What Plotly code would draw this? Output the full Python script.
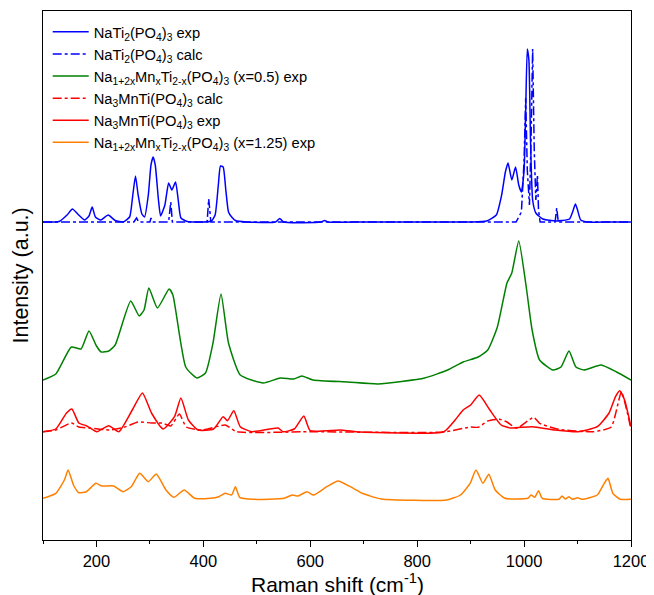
import plotly.graph_objects as go

# ---------------- data (Raman shift in cm-1, intensity in a.u., curves offset for clarity) ----------------
nti_exp_x = [100, 130, 145, 155, 165, 178, 186, 192, 198, 208, 222, 235, 250, 262, 268, 273, 278, 285, 290,
             297, 302, 306, 310, 316, 320, 328, 335, 341, 348, 353, 358, 370, 400, 415, 422, 428, 432, 437,
             442, 447, 453, 460, 480, 535, 543, 550, 620, 627, 633, 700, 800, 900, 930, 948, 958, 965, 970,
             977, 984, 990, 995, 1000, 1003, 1006, 1009, 1012, 1016, 1022, 1035, 1060, 1070, 1085, 1092,
             1096, 1100, 1106, 1120, 1160, 1200]
nti_exp_y = [0, 0.5, 7, 13, 8, 2, 6, 15, 5, 2, 7, 1.5, 0, 5, 27, 46, 27, 8, 5,
             27, 57, 65, 57, 22, 6, 17, 39, 32, 40, 22, 4, 0.5, 0, 1, 7, 37, 56, 55,
             32, 10, 5, 1.5, 0, 0, 3.5, 0, 0, 1.5, 0, 0, 0, 0, 1, 7, 27, 50, 59,
             42, 55, 37, 30, 52, 112, 173, 162, 82, 22, 9, 3, 1, 1.5, 3, 12,
             18, 12, 2, 0, 0, 0]

nti_calc_x = [100, 270, 275, 279, 300, 302, 305, 335, 339, 342, 407, 410, 412, 414, 985, 995, 1000, 1003,
              1006, 1010, 1013, 1016, 1019, 1022, 1025, 1027, 1030, 1058, 1061, 1064, 1200]
nti_calc_y = [0, 0, 4, 0, 0, 4, 0, 0, 20, 0, 0, 23, 12, 0, 0, 10, 62, 124,
              52, 17, 82, 173, 72, 22, 47, 12, 0, 0, 14, 0, 0]

x05_exp_x = [100, 124, 153, 171, 186, 200, 209, 223, 235, 264, 280, 289, 298, 314, 336, 343, 367, 388,
             404, 418, 433, 447, 469, 512, 544, 569, 584, 605, 670, 727, 814, 857, 886, 914, 932, 950,
             968, 977, 990, 1004, 1015, 1029, 1054, 1069, 1084, 1097, 1112, 1144, 1173, 1200]
x05_exp_y = [4, 10, 37, 35, 53, 38, 32, 33, 39, 83, 68, 74, 96, 76, 95, 89, 17, 6,
             11, 41, 90, 41, 9, 1, 6, 5, 8, 4, 2, 0, 6, 14, 22, 27, 34, 57,
             101, 111, 143, 97, 54, 24, 14, 17, 33, 17, 14, 19, 12, 4]

nmt_calc_x = [100, 124, 153, 167, 188, 224, 253, 278, 303, 323, 339, 355, 368, 398, 441, 462, 600, 850,
              900, 914, 932, 954, 968, 986, 1018, 1029, 1065, 1130, 1163, 1182, 1195, 1200]
nmt_calc_y = [0.3, 2, 9, 5, 4, 2, 5, 10, 9, 9, 6, 18, 5, 2, 7, 0.3, 0.3, 0,
              5, 4.7, 11, 12.7, 10, 3.7, 14.7, 8.7, 2.7, 0.3, 5, 40, 15, 2]

nmt_exp_x = [100, 124, 144, 154, 167, 181, 201, 223, 242, 267, 286, 303, 325, 346, 358, 372, 390, 419,
             437, 445, 457, 469, 491, 540, 549, 570, 588, 600, 656, 685, 850, 871, 886, 900, 916, 936,
             957, 975, 1015, 1058, 1101, 1137, 1159, 1171, 1179, 1188, 1200]
nmt_exp_y = [0.3, 3, 19, 23, 9, 6.3, 0.3, 6.3, 0.3, 22, 39, 19, 3, 15.3, 34, 12, 2, 3,
             15.3, 11.3, 21.3, 5.3, 0.3, 4, 0.3, 3, 16, 1.3, 2, 0.3, 0.3, 12, 22, 27, 37, 22,
             7, 4, 5.3, 2, 0.3, 5.3, 19, 35.3, 41.3, 32, 5.3]

x125_exp_x = [100, 124, 140, 147, 157, 167, 181, 199, 210, 232, 250, 265, 281, 297, 312, 330, 345, 364,
              384, 413, 429, 441, 453, 460, 468, 493, 551, 566, 577, 594, 606, 631, 652, 675, 697, 733,
              855, 881, 899, 910, 923, 934, 946, 964, 1007, 1013, 1020, 1027, 1034, 1065, 1071, 1077,
              1084, 1090, 1100, 1108, 1137, 1150, 1157, 1166, 1180, 1200]
x125_exp_y = [1.7, 6.7, 20, 30, 15, 7.3, 8.3, 16.7, 14, 14, 8.3, 13.3, 26.7, 18.3, 26, 10, 2.7, 10,
              1.7, 1.7, 3.3, 6.7, 5, 13.3, 2.7, 0.7, 1.7, 5, 4, 8.3, 5, 13.3, 19, 13.3, 6.7, 1,
              0, 5, 16.7, 30, 16.7, 25.7, 10, 1.7, 1.7, 5, 2.7, 9.3, 1.7, 0.7, 4, 1,
              3.3, 0.7, 2.3, 0.7, 5, 16.7, 21.7, 6.7, 0.7, 0.7]

offsets = [318, 318, 156, 108, 108, 40]
names = [
    "NaTi<sub>2</sub>(PO<sub>4</sub>)<sub>3</sub> exp",
    "NaTi<sub>2</sub>(PO<sub>4</sub>)<sub>3</sub> calc",
    "Na<sub>1+2x</sub>Mn<sub>x</sub>Ti<sub>2-x</sub>(PO<sub>4</sub>)<sub>3</sub> (x=0.5) exp",
    "Na<sub>3</sub>MnTi(PO<sub>4</sub>)<sub>3</sub> calc",
    "Na<sub>3</sub>MnTi(PO<sub>4</sub>)<sub>3</sub> exp",
    "Na<sub>1+2x</sub>Mn<sub>x</sub>Ti<sub>2-x</sub>(PO<sub>4</sub>)<sub>3</sub> (x=1.25) exp",
]
colors = ["#0000FF", "#0000FF", "#008000", "#FF0000", "#FF0000", "#FF8000"]
dashes = ["solid", "dashdot", "solid", "dashdot", "solid", "solid"]
shapes_ = ["spline", "linear", "spline", "spline", "spline", "spline"]
series = [(nti_exp_x, nti_exp_y), (nti_calc_x, nti_calc_y), (x05_exp_x, x05_exp_y),
          (nmt_calc_x, nmt_calc_y), (nmt_exp_x, nmt_exp_y), (x125_exp_x, x125_exp_y)]

x_title = "Raman shift (cm<sup>-1</sup>)"
y_title = "Intensity (a.u.)"

# ---------------- figure ----------------
fig = go.Figure()
for (xs, ys), off, nm, c, d, sh in zip(series, offsets, names, colors, dashes, shapes_):
    line = dict(color=c, width=1.5, dash=d, shape=sh)
    if sh == "spline":
        line["smoothing"] = 0.5
    fig.add_trace(go.Scatter(x=xs, y=[v + off for v in ys], name=nm, mode="lines", line=line))

font_family = "Arial, 'Liberation Sans', sans-serif"
# the page body adds an 8 px margin, so the figure is 8 px smaller than the window
fig.update_layout(
    width=646, height=587,
    margin=dict(l=35, r=23, t=3, b=55, autoexpand=False),
    paper_bgcolor="white", plot_bgcolor="white",
    font=dict(family=font_family, color="black"),
    showlegend=True,
    legend=dict(x=0.008, y=0.991, xanchor="left", yanchor="top",
                bgcolor="rgba(0,0,0,0)", font=dict(size=14.7, family=font_family),
                tracegroupgap=0, itemwidth=36),
    xaxis=dict(range=[100, 1200], showgrid=False, zeroline=False, automargin=False,
               showline=True, linecolor="black", linewidth=1, mirror=True,
               ticks="outside", ticklen=6, tickcolor="black", tickwidth=1,
               tickvals=[200, 400, 600, 800, 1000, 1200],
               tickfont=dict(size=16.5),
               minor=dict(tickvals=[100, 300, 500, 700, 900, 1100], ticks="outside",
                          ticklen=3, tickcolor="black", tickwidth=1)),
    yaxis=dict(range=[0, 529], showgrid=False, zeroline=False, automargin=False,
               showline=True, linecolor="black", linewidth=1, mirror=True,
               showticklabels=False, ticks=""),
    annotations=[
        dict(text=x_title, xref="paper", yref="paper", x=0.5, y=-42.5 / 529,
             xanchor="center", yanchor="middle", showarrow=False, font=dict(size=21)),
        dict(text=y_title, xref="paper", yref="paper", x=-23 / 588, y=0.5, textangle=-90,
             xanchor="center", yanchor="middle", showarrow=False, font=dict(size=21.5)),
    ],
)

fig.write_html("out.html")
